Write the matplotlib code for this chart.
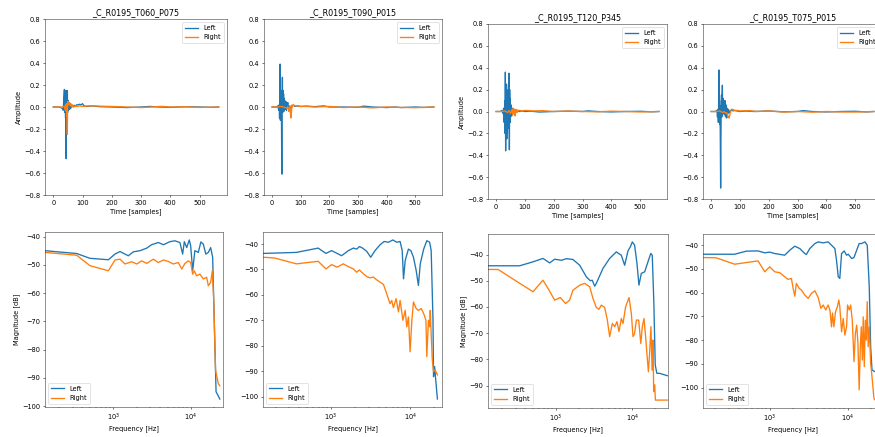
"""
Impulse responses and magnitude spectra of four HRIR measurements
"""
import matplotlib
matplotlib.use("Agg")
import matplotlib.pyplot as plt


titles = ["_C_R0195_T060_P075", "_C_R0195_T090_P015",
          "_C_R0195_T120_P345", "_C_R0195_T075_P015"]

# ---- time domain (sample index, amplitude) ----
t1L = [0, 20, 30, 34, 36, 38, 39, 40, 41, 42, 43, 44, 45, 46, 47, 48, 49, 50, 52, 54, 56, 58, 60, 62, 65,
       68, 72, 76, 80, 85, 90, 95, 100, 105, 115, 130, 160, 200, 250, 300, 330, 360, 400, 450, 500, 540, 565]
a1L = [0, 0, -0.01, -0.03, 0.08, 0.16, -0.05, 0.12, 0.06, -0.1, 0.15, -0.47, 0.1, 0.14, 0.05, 0.15, -0.05,
       0.06, -0.03, 0.02, -0.02, 0.03, -0.01, 0.02, 0.01, 0.0, 0.015, 0.01, 0.02, 0.02, 0.025, 0.02, 0.03,
       0.01, 0.005, 0.01, 0.003, 0.0, -0.005, 0.0, 0.005, 0.0, -0.003, 0.002, 0.0, -0.003, 0.0]
t1R = [0, 30, 38, 40, 42, 44, 45, 46, 47, 48, 49, 50, 51, 52, 54, 56, 58, 60, 63, 66, 70, 75, 80, 90, 100,
       120, 150, 200, 250, 300, 350, 370, 400, 450, 500, 565]
a1R = [0, 0, 0.005, -0.02, 0.02, -0.04, 0.03, -0.08, -0.05, -0.25, 0.04, 0.05, 0.02, 0.05, 0.03, 0.04,
       0.01, 0.03, 0.0, 0.02, 0.0, 0.01, 0.005, 0.01, 0.005, 0.01, 0.008, 0.005, 0.0, -0.005, 0.002, 0.006,
       0.0, 0.002, -0.004, 0.0]

t2L = [0, 15, 20, 23, 25, 26, 27, 28, 29, 30, 31, 32, 33, 34, 35, 36, 37, 38, 39, 40, 41, 42, 43, 44, 46,
       48, 50, 52, 55, 58, 62, 66, 70, 75, 80, 90, 100, 120, 150, 180, 200, 250, 300, 320, 350, 400, 430,
       450, 500, 530, 565]
a2L = [0, 0, 0.01, -0.03, 0.02, -0.1, 0.05, 0.39, -0.12, 0.1, -0.05, 0.15, -0.2, -0.61, 0.05, 0.27, -0.05,
       0.15, 0.02, 0.12, -0.04, 0.08, 0.0, 0.06, -0.02, 0.05, -0.03, 0.02, 0.04, -0.02, 0.01, -0.02, 0.01,
       0.015, 0.005, 0.01, 0.005, 0.008, 0.003, 0.01, 0.0, 0.0, -0.003, 0.008, 0.0, -0.005, 0.0, -0.005,
       0.0, -0.004, 0.0]
t2R = [0, 20, 30, 40, 50, 55, 58, 60, 62, 64, 66, 68, 70, 72, 75, 80, 90, 100, 120, 150, 200, 250, 300,
       350, 400, 450, 500, 565]
a2R = [0, 0, 0.005, 0.0, -0.01, 0.0, -0.04, -0.02, 0.01, -0.06, -0.1, -0.03, 0.02, 0.01, 0.02, 0.01,
       0.01, 0.005, 0.005, 0.0, 0.005, -0.005, 0.0, -0.008, 0.0, -0.004, -0.006, 0.0]

t3L = [0, 15, 20, 24, 26, 28, 30, 31, 32, 33, 34, 35, 36, 37, 38, 39, 40, 41, 42, 43, 44, 45, 46, 47, 48,
       49, 50, 52, 54, 56, 58, 60, 63, 66, 70, 75, 80, 90, 100, 120, 150, 200, 250, 300, 320, 350, 400,
       450, 500, 540, 565]
a3L = [0, 0, 0.01, -0.02, 0.03, -0.1, 0.1, -0.2, 0.36, -0.36, 0.2, -0.15, 0.25, -0.25, 0.15, -0.2, 0.1,
       -0.1, 0.2, -0.15, 0.3, 0.35, -0.35, 0.2, -0.1, 0.12, -0.05, 0.06, -0.04, 0.03, -0.02, 0.02, -0.01,
       0.01, 0.005, 0.01, 0.0, 0.005, 0.0, 0.003, -0.005, 0.0, 0.003, 0.0, 0.006, 0.0, -0.004, 0.0, 0.002,
       -0.003, 0.0]
t3R = [0, 20, 30, 40, 45, 50, 55, 58, 60, 62, 64, 66, 68, 70, 72, 75, 80, 90, 100, 130, 160, 200, 250,
       300, 350, 400, 450, 500, 565]
a3R = [0, 0, 0.005, -0.01, 0.01, -0.02, 0.02, -0.03, 0.03, -0.02, 0.02, -0.04, 0.01, 0.02, -0.01, 0.01,
       0.01, 0.005, 0.01, 0.005, 0.008, 0.0, 0.004, 0.0, -0.003, 0.003, 0.0, -0.004, 0.0]

t4L = [0, 15, 20, 22, 24, 25, 26, 27, 28, 29, 30, 31, 32, 33, 34, 35, 36, 37, 38, 39, 40, 41, 42, 44, 46,
       48, 50, 52, 54, 56, 58, 60, 64, 68, 72, 76, 80, 90, 100, 120, 150, 200, 250, 300, 320, 350, 400,
       450, 500, 540, 565]
a4L = [0, 0, 0.01, -0.05, 0.02, -0.1, 0.05, 0.38, -0.08, 0.1, -0.12, 0.05, -0.3, -0.7, -0.27, 0.05, 0.15,
       -0.05, 0.1, 0.24, -0.02, 0.12, 0.0, 0.08, -0.03, 0.1, -0.05, 0.06, -0.06, 0.03, -0.02, 0.02, -0.01,
       0.01, 0.02, 0.005, 0.01, 0.005, 0.0, 0.004, 0.0, 0.005, -0.003, 0.0, 0.008, 0.0, -0.004, 0.0, 0.002,
       -0.004, 0.0]
t4R = [0, 20, 30, 40, 45, 50, 54, 57, 60, 62, 64, 66, 68, 70, 75, 80, 90, 100, 130, 160, 200, 250, 300,
       350, 400, 450, 500, 565]
a4R = [0, 0, 0.005, -0.01, 0.0, -0.015, -0.01, -0.03, -0.05, -0.06, -0.04, -0.02, 0.0, 0.01, 0.02, 0.01,
       0.01, 0.005, 0.008, 0.0, 0.005, -0.005, 0.0, -0.006, 0.0, -0.004, -0.005, 0.0]

# ---- frequency domain (Hz, dB) ----
f1L = [132, 337, 500, 863, 1050, 1220, 1560, 1810, 2200, 2690, 3100, 3800, 4400, 5360, 6200, 7200, 7800,
       8200, 8800, 9500, 9900, 10500, 11200, 12400, 13400, 14400, 15500, 16700, 17900, 19000, 19900,
       21000, 23500]
m1L = [-45.0, -46.0, -47.7, -48.2, -46.2, -45.3, -46.8, -45.4, -45.0, -44.1, -42.9, -42.1, -42.9, -41.8,
       -41.5, -42.1, -46.2, -41.8, -43.9, -41.2, -43.3, -52.1, -45.0, -45.6, -41.9, -42.7, -46.2, -45.6,
       -43.9, -47.4, -69.7, -94.9, -97.5]
f1R = [132, 337, 500, 863, 1050, 1220, 1410, 1720, 2000, 2320, 2690, 3270, 3800, 4400, 5100, 5900, 6860,
       7600, 8350, 9230, 9900, 10500, 11000, 11800, 13000, 14400, 15900, 16700, 17900, 18800, 19600,
       20700, 22400, 23500]
m1R = [-45.6, -46.6, -50.3, -52.1, -48.3, -48.0, -49.7, -48.9, -49.7, -48.6, -49.5, -48.0, -49.2, -48.3,
       -48.8, -49.7, -49.2, -51.5, -49.5, -48.6, -49.2, -53.3, -52.1, -53.9, -53.3, -55.0, -54.4, -57.4,
       -56.2, -52.1, -62.6, -87.3, -92.0, -92.8]

f2L = [139, 367, 690, 865, 1020, 1365, 1660, 1920, 2110, 2290, 2510, 2830, 3180, 3600, 4170, 4690, 5320,
       6040, 6770, 7460, 7930, 8240, 8650, 9500, 10200, 11000, 11900, 12700, 13400, 14800, 16200, 17600,
       18400, 19400, 19700, 20300, 22050]
m2L = [-43.7, -43.3, -41.6, -43.7, -42.6, -44.6, -42.6, -41.6, -42.0, -41.0, -41.6, -42.9, -45.2, -42.6,
       -40.3, -39.0, -39.3, -38.4, -39.3, -39.0, -42.6, -53.7, -46.5, -42.0, -42.6, -45.2, -50.4, -56.3,
       -47.8, -42.0, -38.7, -39.3, -42.6, -70.0, -92.2, -88.2, -101.0]
f2R = [139, 195, 367, 690, 865, 1020, 1200, 1430, 1660, 1920, 2110, 2290, 2560, 2830, 3110, 3430, 3780,
       4170, 4600, 5060, 5570, 5850, 6140, 6640, 7110, 7460, 8090, 8650, 9060, 9500, 9980, 10500, 11000,
       11900, 12700, 13800, 14800, 15800, 16200, 17000, 17600, 17900, 18400, 19000, 19700, 20600, 22050]
m2R = [-45.2, -45.5, -47.8, -46.8, -49.8, -48.1, -49.1, -47.8, -48.9, -49.8, -51.1, -50.2, -51.7, -52.8,
       -53.3, -53.0, -54.1, -55.0, -55.9, -59.6, -63.5, -62.2, -65.0, -61.5, -66.7, -62.2, -70.0, -66.1,
       -72.6, -68.7, -82.4, -70.0, -62.8, -65.4, -66.1, -65.4, -67.4, -70.0, -84.3, -70.0, -72.6, -66.1,
       -75.2, -85.6, -90.2, -89.5, -91.5]

f3L = [131, 339, 506, 683, 836, 970, 1190, 1380, 1680, 2060, 2510, 2830, 3000, 3230, 3390, 4140, 5060,
       6180, 7190, 7940, 8780, 9420, 10000, 10700, 11500, 12200, 13100, 14500, 16000, 17400, 18200, 19100,
       19900, 20900, 22700, 28600]
m3L = [-44.3, -44.3, -42.8, -41.5, -43.2, -41.8, -42.2, -41.6, -41.9, -44.1, -48.5, -50.0, -49.8, -52.1,
       -51.0, -45.3, -41.5, -39.0, -40.3, -44.1, -38.6, -37.1, -35.2, -36.4, -43.4, -51.7, -47.2, -46.6,
       -42.8, -39.6, -40.3, -58.7, -82.1, -85.3, -85.3, -86.2]
f3R = [131, 177, 506, 683, 794, 970, 1150, 1350, 1520, 1680, 2060, 2390, 2780, 3070, 3390, 3670, 3940,
       4360, 4720, 5060, 5490, 5890, 6310, 6700, 7190, 7560, 8180, 9060, 9710, 10200, 10700, 11300, 12100,
       12900, 13500, 14200, 14900, 15500, 16200, 16800, 17500, 18100, 18600, 19000, 19600, 20000, 28600]
m3R = [-45.7, -45.7, -54.2, -49.8, -52.9, -57.4, -56.4, -58.7, -57.4, -53.6, -51.7, -51.0, -52.3, -56.8,
       -60.2, -60.9, -59.3, -60.2, -65.0, -71.3, -66.3, -67.5, -65.6, -69.4, -64.4, -66.3, -59.9, -56.4,
       -62.5, -71.3, -70.1, -65.0, -65.0, -73.9, -67.5, -64.4, -71.3, -77.7, -84.7, -77.7, -67.5, -84.1,
       -72.6, -92.3, -89.7, -95.5, -95.5]

f4L = [139, 354, 500, 708, 863, 1000, 1160, 1560, 1810, 2100, 2430, 2820, 2960, 3270, 3800, 4190, 4860,
       5630, 6220, 6870, 7210, 7590, 7950, 8380, 9060, 9700, 10200, 11300, 12100, 13100, 14100, 15100,
       16700, 17900, 19000, 19800, 20600, 22400, 28600]
m4L = [-43.8, -43.8, -42.5, -42.4, -43.2, -42.9, -43.5, -44.2, -42.1, -40.4, -41.4, -43.5, -43.9, -41.4,
       -39.3, -38.6, -39.0, -38.6, -40.0, -41.4, -46.3, -53.3, -54.0, -43.5, -42.4, -44.2, -43.8, -45.6,
       -45.2, -42.1, -39.3, -39.3, -38.6, -40.0, -57.5, -82.8, -92.6, -93.3, -93.5]
f4R = [139, 205, 354, 708, 863, 1000, 1160, 1350, 1560, 1720, 1900, 2000, 2100, 2200, 2390, 2560, 2820,
       3120, 3440, 3800, 4190, 4540, 4860, 5250, 5630, 5930, 6220, 6410, 6670, 7000, 7360, 7730, 7950,
       8380, 8790, 9240, 9710, 10000, 10500, 10950, 11500, 12100, 12600, 13100, 13600, 14100, 14600,
       15000, 15500, 15900, 16400, 16900, 17400, 17900, 18400, 19000, 19800, 20600, 21800, 22400, 28600]
m4R = [-45.2, -45.3, -48.0, -46.6, -51.2, -49.1, -51.2, -51.6, -53.3, -54.4, -54.0, -58.2, -61.5, -56.1,
       -58.2, -58.9, -61.0, -62.4, -60.3, -59.2, -62.0, -66.6, -65.2, -67.3, -65.2, -67.3, -74.4, -68.6,
       -74.4, -68.1, -66.2, -63.1, -65.9, -76.5, -70.9, -77.9, -74.4, -65.2, -67.3, -65.2, -71.6, -89.1,
       -77.2, -73.7, -81.4, -101.0, -82.8, -74.4, -88.4, -70.2, -91.2, -71.6, -80.0, -63.8, -82.8, -74.4,
       -89.8, -95.4, -104.5, -105.2, -105.3]

time_data = [(t1L, a1L, t1R, a1R), (t2L, a2L, t2R, a2R), (t3L, a3L, t3R, a3R), (t4L, a4L, t4R, a4R)]
freq_data = [(f1L, m1L, f1R, m1R), (f2L, m2L, f2R, m2R), (f3L, m3L, f3R, m3R), (f4L, m4L, f4R, m4R)]
freq_xlim = [(132, 25800), (139, 25200), (131, 29200), (139, 27700)]

# axes boxes in pixels: left, top, right, bottom
top_boxes = [(45, 19, 227, 195), (264, 19, 442, 195), (488, 24, 667, 199), (703, 24, 882, 199)]
bottom_boxes = [(45, 232, 223, 407), (263, 232, 442, 407), (488, 234, 668, 408), (703, 234, 882, 408)]

W, H = 875, 437
plt.rcParams["lines.linewidth"] = 2.0
plt.rcParams["axes.edgecolor"] = "#333333"
fig = plt.figure(figsize=(W / 48, H / 48), dpi=48)


def box_to_rect(box):
    l, t, r, b = box
    return [l / W, 1 - b / H, (r - l) / W, (b - t) / H]


for i in range(4):
    tL, aL, tR, aR = time_data[i]
    ax = fig.add_axes(box_to_rect(top_boxes[i]))
    ax.plot(tL, aL, label="Left")
    ax.plot(tR, aR, label="Right")
    ax.set_ylim(-0.8, 0.8)
    ax.set_title(titles[i])
    ax.set_xlabel("Time [samples]")
    if i in (0, 2):
        ax.set_ylabel("Amplitude")
    ax.legend(loc="upper right")

    fL, mL, fR, mR = freq_data[i]
    ax = fig.add_axes(box_to_rect(bottom_boxes[i]))
    ax.plot(fL, mL, label="Left")
    ax.plot(fR, mR, label="Right")
    ax.set_xscale("log")
    ax.set_xlim(*freq_xlim[i])
    ax.set_xlabel("Frequency [Hz]")
    if i in (0, 2):
        ax.set_ylabel("Magnitude [dB]")
    ax.legend(loc="lower left")

fig.savefig("out.png", dpi=48)
